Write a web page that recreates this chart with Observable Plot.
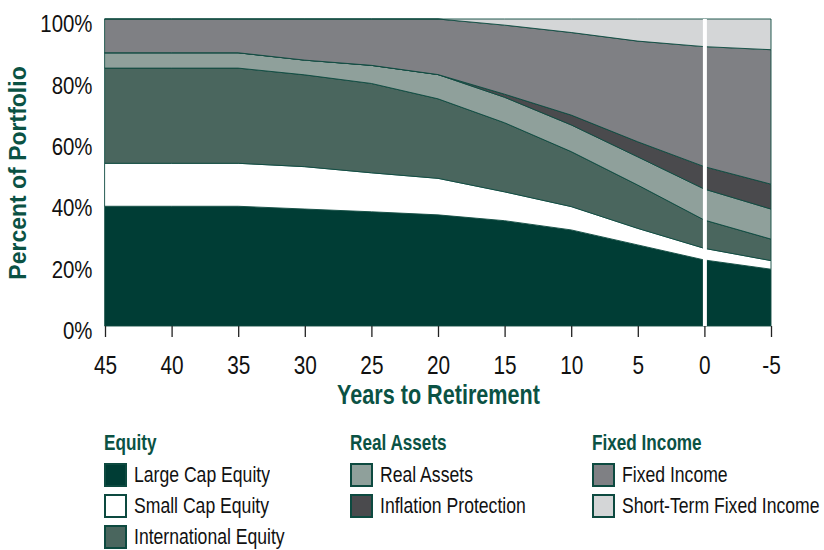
<!DOCTYPE html>
<html>
<head>
<meta charset="utf-8">
<script src="https://cdn.jsdelivr.net/npm/d3@7"></script>
<script src="https://cdn.jsdelivr.net/npm/@observablehq/plot@0.6"></script>
<style>
  html, body { margin: 0; padding: 0; background: #fff; }
  #wrap { position: relative; width: 824px; height: 550px; font-family: "Liberation Sans", Arial, sans-serif; }
  #chart { position: absolute; left: 0; top: 0; }
  .lg-head { position: absolute; font-weight: bold; color: #0b5244; font-size: 22px; line-height: 22px; transform: scaleX(0.78); transform-origin: left center; white-space: nowrap; }
  .lg-sw { position: absolute; width: 19px; height: 20px; border: 2px solid #0d4a40; box-sizing: content-box; }
  .lg-tx { position: absolute; font-size: 22px; line-height: 24px; color: #111; transform: scaleX(0.8); transform-origin: left center; white-space: nowrap; }
</style>
</head>
<body>
<div id="wrap"><div id="chart"></div><div id="legend"></div></div>
<script>
// Years to retirement
const years = [45, 40, 35, 30, 25, 20, 15, 10, 5, 0, -5];
// Allocations (%)
const largeCap    = [39, 39, 39, 38.1, 37.2, 36.2, 34.3, 31.3, 26.4, 21.5, 18.5];
const smallCap    = [14, 14, 14, 13.8, 12.7, 11.9, 9.4, 7.6, 5.4, 3.8, 2.8];
const intlEquity  = [31, 31, 31, 29.9, 29.1, 25.9, 22.5, 17.9, 14.1, 9.2, 7.0];
const realAssets  = [5, 5, 5, 4.8, 5.9, 7.9, 8.3, 8.7, 9.2, 10.1, 9.8];
const inflation   = [0, 0, 0, 0, 0, 0, 1.0, 3.2, 4.9, 7.3, 8.1];
const fixedIncome = [11, 11, 11, 13.4, 15.1, 18.1, 22.5, 26.9, 32.8, 39.1, 43.8];
const shortTerm   = [0, 0, 0, 0, 0, 0, 2.0, 4.4, 7.2, 9.0, 10.0];

const seriesNames = ["Large Cap Equity", "Small Cap Equity", "International Equity",
  "Real Assets", "Inflation Protection", "Fixed Income", "Short-Term Fixed Income"];
const seriesValues = [largeCap, smallCap, intlEquity, realAssets, inflation, fixedIncome, shortTerm];
const seriesColors = ["#003d35", "#ffffff", "#4a665e", "#8fa09b", "#4a4a4d", "#7f8084", "#d4d6d7"];

const xTicks = [45, 40, 35, 30, 25, 20, 15, 10, 5, 0, -5];
const yTicks = [0, 20, 40, 60, 80, 100];

const legendGroups = [
  {title: "Equity", items: ["Large Cap Equity", "Small Cap Equity", "International Equity"]},
  {title: "Real Assets", items: ["Real Assets", "Inflation Protection"]},
  {title: "Fixed Income", items: ["Fixed Income", "Short-Term Fixed Income"]}
];

const data = [];
seriesNames.forEach((s, i) => {
  years.forEach((y, j) => data.push({series: s, year: y, value: seriesValues[i][j]}));
});

const font = `"Liberation Sans", Arial, sans-serif`;

const chart = Plot.plot({
  width: 824,
  height: 420,
  marginLeft: 105,
  marginRight: 53,
  marginTop: 19,
  marginBottom: 94,
  style: {fontFamily: font, background: "white", color: "#111"},
  x: {domain: [45, -5]},
  y: {domain: [0, 100]},
  color: {domain: seriesNames, range: seriesColors},
  marks: [
    Plot.areaY(data, {x: "year", y: "value", z: "series", fill: "series", order: null,
      stroke: "#0d4a40", strokeWidth: 0.9}),
    Plot.ruleX([0], {y1: 0, y2: 100, stroke: "white", strokeWidth: 4}),
    Plot.axisX({ticks: xTicks, tickSize: 11, tickPadding: 18, tickFormat: d => String(d),
      fontSize: 26, label: null, stroke: "#222", strokeWidth: 1.3}),
    Plot.axisY({ticks: yTicks, tickSize: 0, tickPadding: 13, tickFormat: d => d + "%",
      fontSize: 24, label: null, dy: 5}),
    Plot.text(["Years to Retirement"], {frameAnchor: "bottom", lineAnchor: "middle", dy: 69, text: d => d,
      fontSize: 27, fontWeight: "bold", fill: "#0b5244"}),
    Plot.text(["Percent of Portfolio"], {frameAnchor: "left", dx: -87, rotate: -90, text: d => d,
      textAnchor: "middle", fontSize: 23, fontWeight: "bold", fill: "#0b5244"})
  ]
});
document.getElementById("chart").appendChild(chart);

// Horizontally condense text (narrow typeface look)
function squeeze(nodes, s) {
  nodes.forEach(n => {
    const t = n.getAttribute("transform") || "";
    const x = parseFloat(n.getAttribute("x")) || 0;
    const y = parseFloat(n.getAttribute("y")) || 0;
    n.setAttribute("transform", `${t} translate(${x},${y}) scale(${s},1) translate(${-x},${-y})`);
  });
}
const svg = d3.select(chart);
squeeze(svg.selectAll('g[aria-label="x-axis tick label"] text').nodes(), 0.8);
squeeze(svg.selectAll('g[aria-label="y-axis tick label"] text').nodes(), 0.85);
squeeze(svg.selectAll('g[aria-label="text"] text').nodes().filter(n => n.textContent === "Years to Retirement"), 0.8);

// Legend
const legend = document.getElementById("legend");
const groupX = [104, 350, 592];
legendGroups.forEach((g, gi) => {
  const h = document.createElement("div");
  h.className = "lg-head";
  h.style.left = groupX[gi] + "px";
  h.style.top = "432px";
  h.textContent = g.title;
  legend.appendChild(h);
  g.items.forEach((name, ii) => {
    const top = 463 + ii * 31;
    const sw = document.createElement("div");
    sw.className = "lg-sw";
    sw.style.left = groupX[gi] + "px";
    sw.style.top = top + "px";
    sw.style.background = seriesColors[seriesNames.indexOf(name)];
    legend.appendChild(sw);
    const tx = document.createElement("div");
    tx.className = "lg-tx";
    tx.style.left = (groupX[gi] + 30) + "px";
    tx.style.top = top + "px";
    tx.textContent = name;
    legend.appendChild(tx);
  });
});
</script>
</body>
</html>
